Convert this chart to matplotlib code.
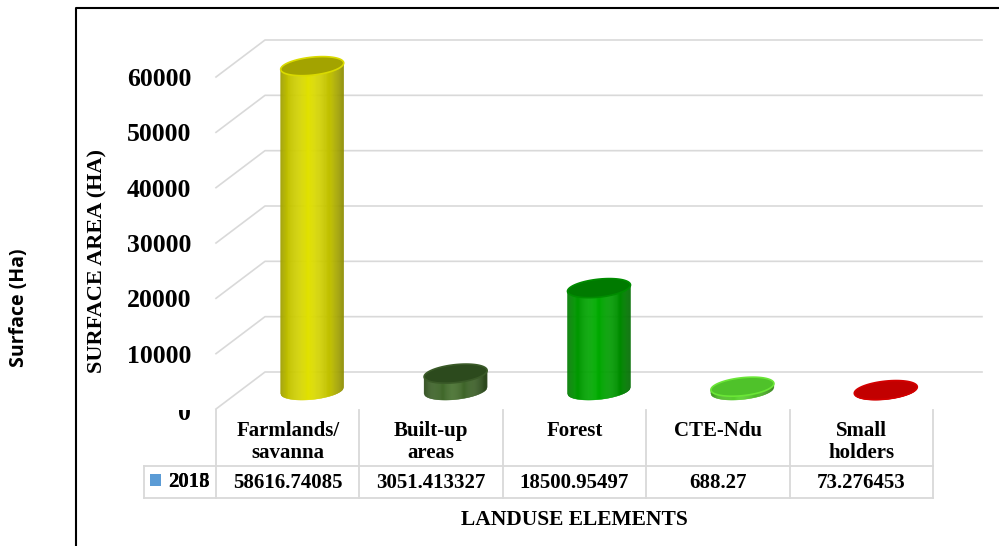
import matplotlib.pyplot as plt
import matplotlib.colors as mcolors
import numpy as np
from matplotlib.patches import Rectangle, Polygon
from matplotlib.lines import Line2D

categories = ["Farmlands/\nsavanna", "Built-up\nareas", "Forest", "CTE-Ndu", "Small\nholders"]
surface_2018 = [58616.74085, 3051.413327, 18500.95497, 688.27, 73.276453]
value_ticks = [0, 10000, 20000, 30000, 40000, 50000, 60000]
series_name = "2018"

body_colors = ["#e2e200", "#46702e", "#00ad00", "#5ad42e", "#d00000"]
top_colors = ["#a3a300", "#2c4a1d", "#007a00", "#4fc22a", "#c20000"]
rim_colors = ["#dada00", "#3a5a28", "#008c00", "#6ae636", "#d40000"]

plt.rcParams['font.family'] = ['Liberation Serif', 'DejaVu Serif']

W, H = 999, 546
fig = plt.figure(figsize=(W / 100, H / 100), dpi=100)


def fx(px):
    return px / W


def fy(py):
    return 1 - py / H


# front edge of the floor and the value axis, in pixels
x_left, x_right = 216, 933
y_zero, y_top = 409, 77
ax = fig.add_axes([fx(x_left), fy(y_zero), (x_right - x_left) / W, (y_zero - y_top) / H])
ax.set_xlim(-0.5, len(categories) - 0.5)
ax.set_ylim(0, value_ticks[-1])
ux = len(categories) / (x_right - x_left)
uy = value_ticks[-1] / (y_zero - y_top)


def yd(py):
    # pixel row -> value units
    return (y_zero - py) * uy


DX, DY = 49 * ux, 37 * uy
grid_c = "#d9d9d9"

# walls: diagonal side lines and back lines
for v in value_ticks:
    ax.plot([-0.5, -0.5 + DX, len(categories) - 0.5 + DX], [v, v + DY, v + DY],
            color=grid_c, lw=1.2, clip_on=False, zorder=1)


def shade(c, k):
    return tuple(np.clip(np.array(mcolors.to_rgb(c)) * k, 0, 1))


a = 31.5 * ux
b = 9 * uy
s = 0.1 * uy / ux
n_strips = 60
for i, v in enumerate(surface_2018):
    cx = i + DX / 2
    base = DY / 2
    top = base + v
    xs = np.linspace(cx - a, cx + a, n_strips + 1)

    def lower(x, yc):
        return yc + s * (x - cx) - b * np.sqrt(np.clip(1 - ((x - cx) / a) ** 2, 0, 1))

    for j in range(n_strips):
        x0, x1 = xs[j], xs[j + 1]
        u = (j + 0.5) / n_strips
        k = np.interp(u, [0, 0.12, 0.45, 0.8, 1], [0.7, 0.86, 1.0, 0.84, 0.62])
        col = shade(body_colors[i], k)
        poly = Polygon([(x0, lower(x0, base)), (x1, lower(x1, base)),
                        (x1, top + s * (x1 - cx)), (x0, top + s * (x0 - cx))],
                       closed=True, facecolor=col, edgecolor=col, lw=0.3,
                       clip_on=False, zorder=3)
        ax.add_patch(poly)
    t = np.linspace(0, 2 * np.pi, 120)
    ex = cx + a * np.cos(t)
    ey = top + s * a * np.cos(t) + b * np.sin(t)
    ax.add_patch(Polygon(np.column_stack([ex, ey]), closed=True, facecolor=top_colors[i],
                         edgecolor=rim_colors[i], lw=1.2, clip_on=False, zorder=4))

# value axis labels (the "0" is drawn separately, lower and half hidden)
ax.set_yticks(value_ticks)
ax.set_yticklabels([str(t) if t else "" for t in value_ticks])
ax.tick_params(axis='y', length=0, pad=18, labelsize=18.5)
for lbl in ax.get_yticklabels():
    lbl.set_fontweight('bold')
ax.set_xticks([])
for sp in ax.spines.values():
    sp.set_visible(False)
ax.patch.set_visible(False)
ax.text((191 - x_left) * ux - 0.5, yd(414), str(value_ticks[0]), ha='right', va='center',
        fontsize=18.5, fontweight='bold', clip_on=False)

# data table
tab_kw = dict(color=grid_c, lw=1.3, clip_on=False, zorder=2)
for bnd in np.arange(-0.5, len(categories)):
    ax.plot([bnd, bnd], [yd(410), yd(498)], **tab_kw)
ax.plot([-1.0, len(categories) - 0.5], [yd(466), yd(466)], **tab_kw)
ax.plot([-1.0, len(categories) - 0.5], [yd(498), yd(498)], **tab_kw)
ax.plot([-1.0, -1.0], [yd(466), yd(498)], **tab_kw)

for i, (cat, v) in enumerate(zip(categories, surface_2018)):
    ax.text(i, yd(421), cat, ha='center', va='top', fontsize=15, fontweight='bold',
            linespacing=1.15, clip_on=False)
    ax.text(i, yd(483), str(v), ha='center', va='center', fontsize=15,
            fontweight='bold', clip_on=False)

ax.add_patch(Rectangle(((150 - x_left) * ux - 0.5, yd(486)), 11 * ux, 12 * uy,
                       facecolor="#5b9bd5", edgecolor='none', clip_on=False))
for lab in ["2015", series_name]:
    ax.text((168 - x_left) * ux - 0.5, yd(482), lab, ha='left', va='center',
            fontsize=15, fontweight='bold', clip_on=False)

# hide top of the "0" label like the reference
fig.add_artist(Rectangle((fx(160), fy(410)), 45 / W, 20 / H, transform=fig.transFigure,
                         facecolor='white', edgecolor='none', zorder=5))

fig.text(fx(574), fy(520), "LANDUSE ELEMENTS", ha='center', va='center',
         fontsize=15.5, fontweight='bold')
fig.text(fx(97), fy(261), "SURFACE AREA (HA)", rotation=90, ha='center', va='center',
         fontsize=16, fontweight='bold')
fig.text(fx(19), fy(308), "Surface (Ha)", rotation=90, ha='center', va='center',
         fontsize=14, fontweight='bold', family=['Open Sans', 'DejaVu Sans'])

# outer frame (left and top edges)
fig.add_artist(Line2D([fx(76), fx(76), 1], [0, fy(8), fy(8)], color='black', lw=1.5,
                      transform=fig.transFigure, zorder=6))

fig.savefig("out.png", dpi=100)
